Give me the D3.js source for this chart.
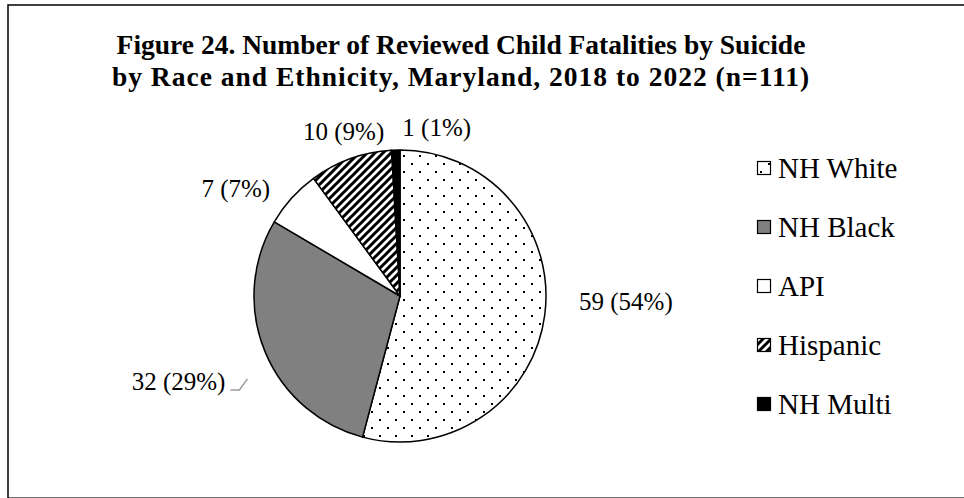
<html>
<head>
    <script src="https://d3js.org/d3.v7.min.js"></script>
    <style>
        body { margin: 0; background: #fff; }
        text { font-family: "Liberation Serif", "Times New Roman", serif; }
    </style>
</head>

<body>
    <svg id="chart"></svg>

    <script>
        var categories = ["NH White", "NH Black", "API", "Hispanic", "NH Multi"];
        var counts = [59, 32, 7, 10, 1];
        var percents = ["54%", "29%", "7%", "9%", "1%"];
        var titleLines = [
            "Figure 24. Number of Reviewed Child Fatalities by Suicide",
            "by Race and Ethnicity, Maryland, 2018 to 2022 (n=111)"
        ];

        var W = 964, H = 498;
        var cx = 400, cy = 296, R = 146;

        // label placement: angle nudge (deg), distance from centre, pixel shift
        var labelNudge = [-6, 4, -4, 7, 12];
        var labelDist = [226, 229, 196, 173, 171];
        var labelShift = [[0, 0], [-4, 14], [-10, 14], [-18, 4], [6, 0]];

        var svg = d3.select("#chart")
            .attr("width", W)
            .attr("height", H);

        var defs = svg.append("defs");

        var dots = defs.append("pattern")
            .attr("id", "dots")
            .attr("patternUnits", "userSpaceOnUse")
            .attr("width", 16).attr("height", 16);
        dots.append("rect").attr("width", 16).attr("height", 16).attr("fill", "#fff");
        dots.append("rect").attr("x", 3).attr("y", 3).attr("width", 2).attr("height", 2).attr("fill", "#000");
        dots.append("rect").attr("x", 11).attr("y", 11).attr("width", 2).attr("height", 2).attr("fill", "#000");

        var hatch = defs.append("pattern")
            .attr("id", "hatch")
            .attr("patternUnits", "userSpaceOnUse")
            .attr("width", 8).attr("height", 8);
        hatch.append("rect").attr("width", 8).attr("height", 8).attr("fill", "#fff");
        hatch.append("path")
            .attr("d", "M-2,2 L2,-2 M0,8 L8,0 M6,10 L10,6")
            .attr("stroke", "#000")
            .attr("stroke-width", 3);

        var fills = ["url(#dots)", "#808080", "#fff", "url(#hatch)", "#000"];
        var color = d3.scaleOrdinal().domain(categories).range(fills);

        // frame
        svg.append("rect")
            .attr("x", 8).attr("y", 5)
            .attr("width", 980).attr("height", 493.2)
            .attr("fill", "none")
            .attr("stroke", "#000")
            .attr("stroke-width", 1.5);

        // title
        svg.append("g").selectAll("text")
            .data(titleLines)
            .enter().append("text")
                .attr("x", 461)
                .attr("y", function(d, i){ return 54 + i * 32; })
                .attr("text-anchor", "middle")
                .attr("font-size", 27.5)
                .attr("font-weight", "bold")
                .attr("letter-spacing", function(d, i){ return i ? 1 : 0; })
                .text(function(d){ return d; });

        var data = categories.map(function(c, i){
            return { name: c, value: counts[i], pct: percents[i], idx: i };
        });

        var pie = d3.pie()
            .value(function(d){ return d.value; })
            .sort(null);

        var arc = d3.arc().innerRadius(0).outerRadius(R);
        var arcs = pie(data);

        var g = svg.append("g")
            .attr("transform", "translate(" + cx + " " + cy + ")");

        g.selectAll(".slice")
            .data(arcs)
            .enter()
                .append("path").classed("slice", true)
                    .attr("d", arc)
                    .attr("fill", function(d){ return color(d.data.name); })
                    .attr("stroke", "#000")
                    .attr("stroke-width", 1.5)
                    .attr("stroke-linejoin", "round");

        function labelPoint(d){
            var i = d.data.idx;
            var a = (d.startAngle + d.endAngle) / 2 + labelNudge[i] * Math.PI / 180;
            var r = labelDist[i];
            return [Math.sin(a) * r + labelShift[i][0], -Math.cos(a) * r + labelShift[i][1]];
        }

        var labels = g.selectAll(".lbl")
            .data(arcs)
            .enter()
                .append("text").classed("lbl", true)
                    .attr("x", function(d){ return labelPoint(d)[0]; })
                    .attr("y", function(d){ return labelPoint(d)[1]; })
                    .attr("dy", "0.33em")
                    .attr("text-anchor", "middle")
                    .attr("font-size", 25)
                    .text(function(d){ return d.data.value + " (" + d.data.pct + ")"; });

        // short leader line for NH Black label
        var lp = labelPoint(arcs[1]);
        var right = lp[0] + labels.filter(function(d){ return d.data.idx === 1; })
            .node().getComputedTextLength() / 2;
        g.append("polyline")
            .attr("points", [[right + 5, lp[1] + 8], [right + 14, lp[1] + 8], [right + 22, lp[1] - 3]].join(" "))
            .attr("fill", "none")
            .attr("stroke", "#999")
            .attr("stroke-width", 1.5);

        // legend
        var legend = svg.append("g")
            .attr("transform", "translate(757 168)");

        var item = legend.selectAll(".item")
            .data(categories)
            .enter().append("g").classed("item", true)
                .attr("transform", function(d, i){ return "translate(0 " + (i * 59) + ")"; });

        item.append("rect")
            .attr("x", 0.5).attr("y", -6.5)
            .attr("width", 13).attr("height", 13)
            .attr("fill", function(d){ return color(d); })
            .attr("stroke", "#000")
            .attr("stroke-width", 1.2);

        item.append("text")
            .attr("x", 21)
            .attr("dy", "0.33em")
            .attr("font-size", 29)
            .text(function(d){ return d; });
    </script>
</body>
</html>
